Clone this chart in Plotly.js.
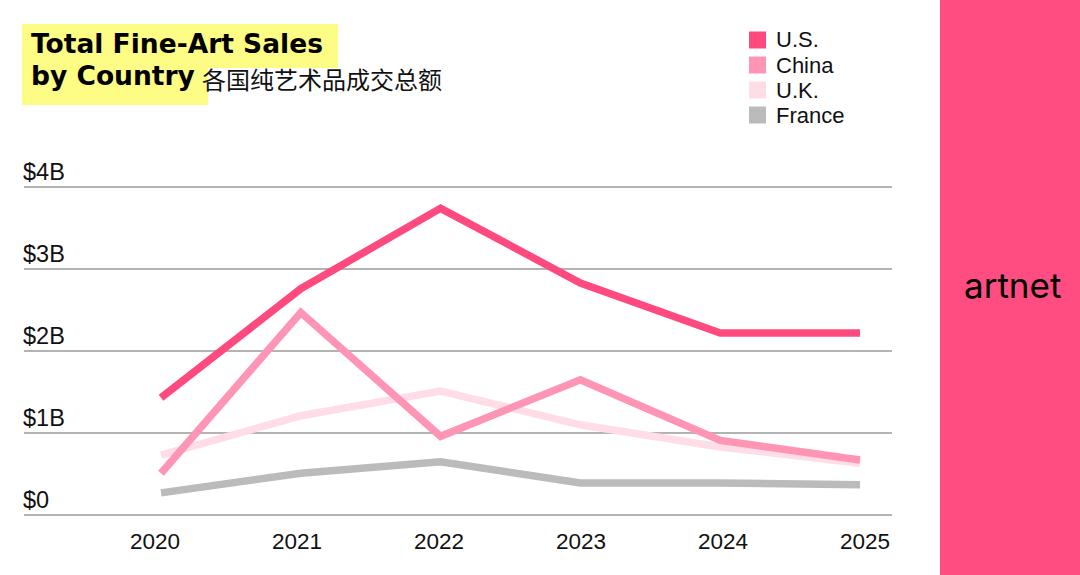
<!DOCTYPE html>
<html>
<head>
<meta charset="utf-8">
<script src="https://cdn.plot.ly/plotly-3.0.1.min.js"></script>
<style>
html,body{margin:0;padding:0;background:#fff;}
#chart{width:1080px;height:575px;}
</style>
</head>
<body>
<div id="chart"></div>
<script>
// ---- data ----
const years = [2020, 2021, 2022, 2023, 2024, 2025];
const yearLabels = ["2020", "2021", "2022", "2023", "2024", "2025"];
const usSales = [1.43, 2.76, 3.74, 2.83, 2.22, 2.22];
const chinaSales = [0.51, 2.47, 0.96, 1.65, 0.91, 0.67];
const ukSales = [0.73, 1.21, 1.51, 1.10, 0.83, 0.63];
const franceSales = [0.27, 0.51, 0.65, 0.39, 0.39, 0.37];
const seriesNames = ["U.S.", "China", "U.K.", "France"];
const yTickVals = [0, 1, 2, 3, 4];
const yTickLabels = ["$0", "$1B", "$2B", "$3B", "$4B"];
const titleLine1 = "Total Fine-Art Sales";
const titleLine2 = "by Country";
const titleZh = "各国纯艺术品成交总额";
const brand = "artnet";

const colors = ["#ff4a80", "#ff95b5", "#ffdde7", "#bbbbbb"];
const seriesData = [usSales, chinaSales, ukSales, franceSales];

// ---- geometry helpers (pixel -> paper) ----
const W = 1080, H = 575;
const mL = 24, mR = 188, mT = 180, mB = 55;
const pw = W - mL - mR, ph = H - mT - mB;
const px = x => (x - mL) / pw;
const py = y => (H - mB - y) / ph;

const traces = [];
// France first (bottom), then UK, China, US on top
[3, 2, 1, 0].forEach(i => {
  traces.push({
    type: "scatter", mode: "lines",
    x: years, y: seriesData[i], name: seriesNames[i],
    line: {color: colors[i], width: 7.5},
    showlegend: false, hoverinfo: "x+y+name"
  });
});
// carrier for the year label axis
traces.push({type: "scatter", mode: "lines", x: [years[0]], y: [null],
  xaxis: "x2", showlegend: false, hoverinfo: "skip"});

const annotations = [];
const shapes = [
  // highlight boxes behind title
  {type: "rect", xref: "paper", yref: "paper", layer: "below",
   x0: px(22), x1: px(338), y0: py(24), y1: py(68),
   fillcolor: "#fdfc84", line: {width: 0}},
  {type: "rect", xref: "paper", yref: "paper", layer: "below",
   x0: px(22), x1: px(208), y0: py(60), y1: py(105),
   fillcolor: "#fdfc84", line: {width: 0}},
  // right brand panel
  {type: "rect", xref: "paper", yref: "paper", layer: "below",
   x0: px(940), x1: px(1081), y0: py(-1), y1: py(576),
   fillcolor: "#ff4c81", line: {width: 0}}
];

// legend (square swatches + labels)
seriesNames.forEach((name, i) => {
  const cy = 40 + i * 25;
  shapes.push({type: "rect", xref: "paper", yref: "paper",
    x0: px(749), x1: px(766), y0: py(cy - 8.5), y1: py(cy + 8.5),
    fillcolor: colors[i], line: {width: 0}});
  annotations.push({xref: "paper", yref: "paper", x: px(774), y: py(cy),
    xanchor: "left", yanchor: "middle", showarrow: false, text: name,
    font: {family: "Liberation Sans, Arial, sans-serif", size: 22, color: "#111"}});
});

// y tick labels above gridlines
yTickVals.forEach((v, k) => {
  annotations.push({
    xref: "paper", yref: "y", x: px(21), y: v,
    xanchor: "left", yanchor: "bottom", yshift: 0,
    text: yTickLabels[k], showarrow: false,
    font: {family: "Liberation Sans, Arial, sans-serif", size: 23.5, color: "#111"}
  });
});
// title
const titleFont = {family: "DejaVu Sans, Liberation Sans, sans-serif", size: 26.5, weight: "bold", color: "#000"};
annotations.push({
  xref: "paper", yref: "paper", x: px(29), y: py(43),
  xanchor: "left", yanchor: "middle", showarrow: false,
  text: titleLine1, font: titleFont
});
annotations.push({
  xref: "paper", yref: "paper", x: px(29), y: py(75),
  xanchor: "left", yanchor: "middle", showarrow: false,
  text: titleLine2, font: titleFont
});
annotations.push({
  xref: "paper", yref: "paper", x: px(200), y: py(79),
  xanchor: "left", yanchor: "middle", showarrow: false,
  text: titleZh,
  font: {family: "Noto Sans CJK SC, sans-serif", size: 24, color: "#111"}
});
// brand
annotations.push({
  xref: "paper", yref: "paper", x: px(1012), y: py(285),
  xanchor: "center", yanchor: "middle", showarrow: false,
  text: brand,
  font: {family: "Inter, Liberation Sans, sans-serif", size: 35, color: "#000"}
});

const layout = {
  width: W, height: H,
  margin: {l: mL, r: mR, t: mT, b: mB, pad: 0},
  paper_bgcolor: "#fff", plot_bgcolor: "rgba(0,0,0,0)",
  showlegend: false,
  xaxis: {
    range: [2020 - (161 - 24) / 139.8, 2025 + (892 - 860) / 139.8],
    showticklabels: false,
    showgrid: false, zeroline: false, showline: false, ticks: "",
    fixedrange: true
  },
  xaxis2: {
    overlaying: "x", anchor: "y", side: "bottom",
    range: [2020 - (155 - 24) / 142, 2025 + (892 - 865) / 142],
    tickvals: years, ticktext: yearLabels,
    showgrid: false, zeroline: false, showline: false,
    ticks: "outside", ticklen: 1, tickcolor: "rgba(0,0,0,0)",
    tickfont: {family: "Liberation Sans, Arial, sans-serif", size: 22.5, color: "#111"},
    fixedrange: true
  },
  yaxis: {
    range: [-(520 - 515) / 82, (515 - 180) / 82],
    tickvals: yTickVals, showticklabels: false,
    showgrid: true, gridcolor: "#b3b3b3", gridwidth: 1.5,
    zeroline: false, showline: false, ticks: "",
    fixedrange: true
  },
  annotations: annotations,
  shapes: shapes
};

Plotly.newPlot("chart", traces, layout, {displayModeBar: false, staticPlot: true});
</script>
</body>
</html>
